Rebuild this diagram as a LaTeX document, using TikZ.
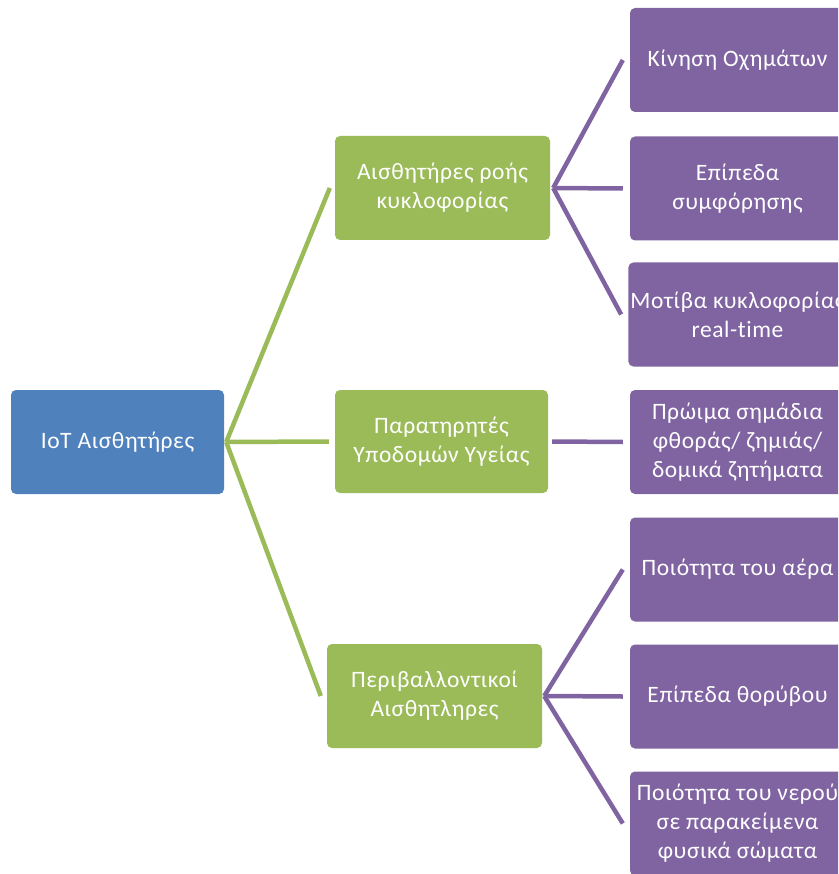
\documentclass[tikz,border=0pt]{standalone}
\usepackage{fontspec}
\setmainfont[Ligatures=NoCommon, LetterSpace=2.5]{Carlito}
\begin{document}
\begin{tikzpicture}[x=1pt,y=-1pt,
  box/.style={rounded corners=5pt, minimum width=215pt, minimum height=104pt,
    inner sep=2pt, text=white, align=center, font=\fontsize{23.5}{29}\selectfont},
  rootbox/.style={box, fill=rootblue, minimum width=213pt},
  midbox/.style={box, fill=midgreen},
  leafbox/.style={box, fill=leafpurple},
  greenlink/.style={draw=midgreen, line width=4.5pt},
  purplelink/.style={draw=leafpurple, line width=4.5pt}]
\definecolor{rootblue}{HTML}{4F81BD}
\definecolor{midgreen}{HTML}{9BBB59}
\definecolor{leafpurple}{HTML}{8064A2}

\useasboundingbox (0,0) rectangle (838,874);
\clip (0,0) rectangle (838,874);

% root and second level
\node[rootbox] (root) at (117.5,442) {IoT Αισθητήρες};
\node[midbox] (traffic) at (442.5,188) {Αισθητήρες ροής\\κυκλοφορίας};
\node[midbox, minimum width=213pt, minimum height=103pt] (health) at (441.5,441.5) {Παρατηρητές\\Υποδομών Υγείας};
\node[midbox] (env) at (434.5,696) {Περιβαλλοντικοί\\Αισθητληρες};

% leaves
\node[leafbox] (l1) at (737.5,60) {Κίνηση Οχημάτων};
\node[leafbox] (l2) at (737.5,188.5) {Επίπεδα\\συμφόρησης};
\node[leafbox] (l3) at (737.5,314.5) {Μοτίβα κυκλοφορίας\\real-time};
\node[leafbox] (l4) at (737.5,442) {Πρώιμα σημάδια\\φθοράς/ ζημιάς/\\δομικά ζητήματα};
\node[leafbox] (l5) at (737.5,569.5) {Ποιότητα του αέρα};
\node[leafbox] (l6) at (737.5,696.5) {Επίπεδα θορύβου};
\node[leafbox] (l7) at (737.5,823.5) {Ποιότητα του νερού\\σε παρακείμενα\\φυσικά σώματα};

% junction points
\coordinate (rj) at ([xshift=2pt]root.east);
\coordinate (tj) at ([xshift=3pt]traffic.east);
\coordinate (ej) at ([xshift=2pt]env.east);

% green links
\draw[greenlink] (rj) -- ([xshift=-5pt]traffic.west);
\draw[greenlink] (rj) -- ([xshift=-6pt]health.west);
\draw[greenlink] (rj) -- ([xshift=-6pt]env.west);

% purple links
\draw[purplelink] (tj) -- ([xshift=-7pt]l1.west);
\draw[purplelink] (tj) -- ([xshift=-7pt]l2.west);
\draw[purplelink] (tj) -- ([xshift=-7pt]l3.west);
\draw[purplelink] ([xshift=4pt]health.east) -- ([xshift=-7pt]l4.west);
\draw[purplelink] (ej) -- ([xshift=-7pt]l5.west);
\draw[purplelink] (ej) -- ([xshift=-7pt]l6.west);
\draw[purplelink] (ej) -- ([xshift=-7pt]l7.west);
\end{tikzpicture}
\end{document}
